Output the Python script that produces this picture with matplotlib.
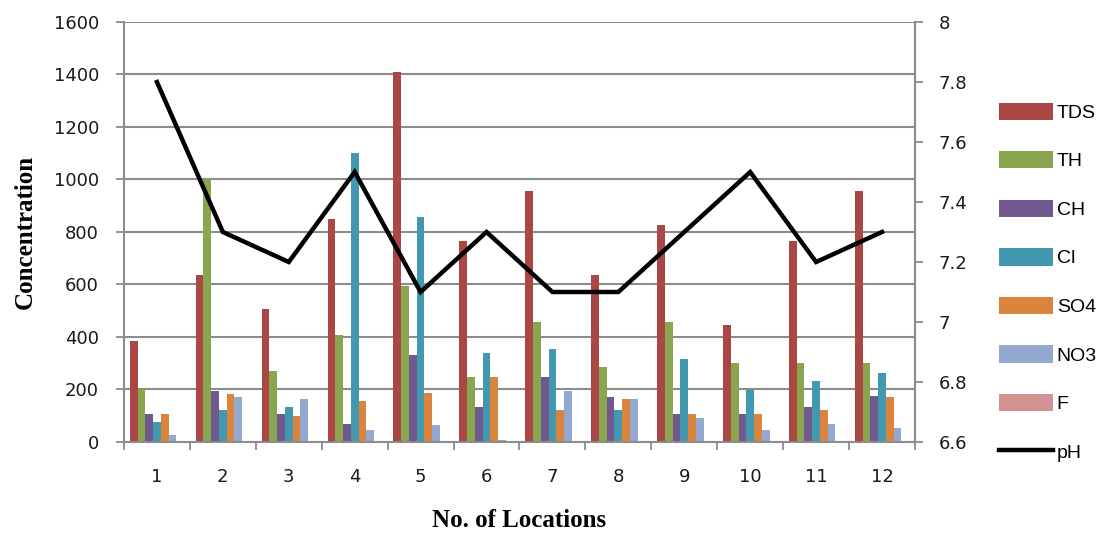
import numpy as np
import matplotlib.pyplot as plt
from matplotlib.ticker import FuncFormatter, FixedLocator

# data
locations = [1, 2, 3, 4, 5, 6, 7, 8, 9, 10, 11, 12]
tds = [383, 635, 505, 848, 1408, 766, 955, 635, 825, 444, 766, 955]
th = [200, 1000, 269, 406, 596, 246, 459, 284, 459, 300, 300, 300]
ch = [108, 195, 108, 70, 330, 132, 246, 170, 108, 108, 132, 176]
cl = [77, 123, 132, 1100, 856, 338, 353, 123, 315, 199, 231, 261]
so4 = [108, 184, 100, 155, 185, 246, 123, 162, 108, 108, 123, 170]
no3 = [27, 170, 162, 47, 63, 9, 195, 162, 93, 47, 70, 55]
f = [0.8, 0.8, 0.8, 0.8, 0.8, 0.8, 0.8, 0.8, 0.8, 0.8, 0.8, 0.8]
ph = [7.8, 7.3, 7.2, 7.5, 7.1, 7.3, 7.1, 7.1, 7.3, 7.5, 7.2, 7.3]

series = [("TDS", tds, "#AA4643"), ("TH", th, "#89A54E"), ("CH", ch, "#71588F"),
          ("Cl", cl, "#4198AF"), ("SO4", so4, "#DB843D"), ("NO3", no3, "#93A9CF"),
          ("F", f, "#D19392")]

grey = "#8c8c8c"
tick_font = {"family": "DejaVu Sans", "size": 13}

fig = plt.figure(figsize=(11.08, 5.34), dpi=100)
ax = fig.add_axes([0.1119, 0.1723, 0.7139, 0.7865])

x = np.array(locations)
n = len(series)
w = 1.0 / (n + 1.5)
for i, (name, vals, col) in enumerate(series):
    ax.bar(x + (i - (n - 1) / 2) * w, vals, width=w, color=col, label=name, zorder=2)

ax.set_xlim(0.5, 12.5)
ax.set_ylim(0, 1600)
ax.set_yticks(np.arange(0, 1601, 200))
ax.set_axisbelow(True)
ax.yaxis.grid(True, color=grey, linewidth=1.5)

ax.set_xticks(locations)
ax.xaxis.set_minor_locator(FixedLocator(np.arange(0.5, 12.6, 1)))
ax.tick_params(axis="x", which="major", length=0, pad=19)
ax.tick_params(axis="x", which="minor", length=6, width=1.3, color=grey, direction="out")
ax.tick_params(axis="y", length=6, width=1.3, color=grey, direction="out", pad=12)
for lab in ax.get_xticklabels() + ax.get_yticklabels():
    lab.set_fontfamily(tick_font["family"])
    lab.set_fontsize(tick_font["size"])
    lab.set_color("#1a1a1a")

ax.spines["top"].set_visible(False)
for s in ["left", "bottom", "right"]:
    ax.spines[s].set_color(grey)
    ax.spines[s].set_linewidth(1.5)

ax.set_xlabel("No. of Locations", fontfamily="Liberation Serif", fontweight="bold",
              fontsize=18, labelpad=16)
ax.set_ylabel("Concentration", fontfamily="Liberation Serif", fontweight="bold",
              fontsize=18, labelpad=12)

ax2 = ax.twinx()
ax2.plot(x, ph, color="black", linewidth=3.2, label="pH", zorder=3,
         solid_joinstyle="miter")
ax2.set_ylim(6.6, 8.0)
ax2.set_yticks(np.round(np.arange(6.6, 8.01, 0.2), 1))
ax2.yaxis.set_major_formatter(FuncFormatter(lambda v, p: f"{v:g}"))
ax2.tick_params(axis="y", length=6, width=1.3, color=grey, direction="out", pad=11)
for lab in ax2.get_yticklabels():
    lab.set_fontfamily(tick_font["family"])
    lab.set_fontsize(tick_font["size"])
    lab.set_color("#1a1a1a")
for s in ["top", "left", "bottom"]:
    ax2.spines[s].set_visible(False)
ax2.spines["right"].set_color(grey)
ax2.spines["right"].set_linewidth(1.5)

h1, l1 = ax.get_legend_handles_labels()
h2, l2 = ax2.get_legend_handles_labels()
fig.legend(h1 + h2, l1 + l2, loc="upper left", bbox_to_anchor=(0.902, 0.808),
           frameon=False, prop={"family": "Liberation Sans", "size": 14},
           handlelength=2.75, handleheight=1.0, labelspacing=1.5,
           handletextpad=0.2, borderpad=0, borderaxespad=0)

fig.savefig("out.png", dpi=100)
